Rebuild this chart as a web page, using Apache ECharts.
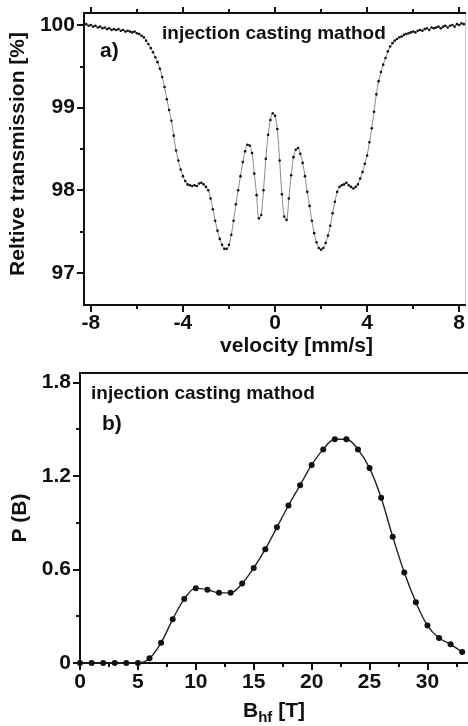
<!DOCTYPE html>
<html>
<head>
<meta charset="utf-8">
<script src="https://cdn.jsdelivr.net/npm/echarts@6/dist/echarts.min.js"></script>
<style>
  html, body { margin: 0; padding: 0; background: #fff; }
  #chart { width: 468px; height: 726px; }
</style>
</head>
<body>
<div id="chart"></div>
<script>
// a) Mossbauer spectrum
const velocity = [
  -8.3, -8.2, -8.1, -8.0, -7.9, -7.8, -7.7, -7.6, -7.5, -7.4, -7.3, -7.2, -7.1, -7.0,
  -6.9, -6.8, -6.7, -6.6, -6.5, -6.4, -6.3, -6.2, -6.1, -6.0, -5.9, -5.8, -5.7, -5.6,
  -5.5, -5.4, -5.3, -5.2, -5.1, -5.0, -4.9, -4.8, -4.7, -4.6, -4.5, -4.4, -4.3, -4.2,
  -4.1, -4.0, -3.9, -3.8, -3.7, -3.6, -3.5, -3.4, -3.3, -3.2, -3.1, -3.0, -2.9, -2.8,
  -2.7, -2.6, -2.5, -2.4, -2.3, -2.2, -2.1, -2.0, -1.9, -1.8, -1.7, -1.6, -1.5, -1.4,
  -1.3, -1.2, -1.1, -1.0, -0.9, -0.8, -0.7, -0.6, -0.5, -0.4, -0.3, -0.2, -0.1, 0.0,
  0.1, 0.2, 0.3, 0.4, 0.5, 0.6, 0.7, 0.8, 0.9, 1.0, 1.1, 1.2, 1.3, 1.4,
  1.5, 1.6, 1.7, 1.8, 1.9, 2.0, 2.1, 2.2, 2.3, 2.4, 2.5, 2.6, 2.7, 2.8,
  2.9, 3.0, 3.1, 3.2, 3.3, 3.4, 3.5, 3.6, 3.7, 3.8, 3.9, 4.0, 4.1, 4.2,
  4.3, 4.4, 4.5, 4.6, 4.7, 4.8, 4.9, 5.0, 5.1, 5.2, 5.3, 5.4, 5.5, 5.6,
  5.7, 5.8, 5.9, 6.0, 6.1, 6.2, 6.3, 6.4, 6.5, 6.6, 6.7, 6.8, 6.9, 7.0,
  7.1, 7.2, 7.3, 7.4, 7.5, 7.6, 7.7, 7.8, 7.9, 8.0, 8.1, 8.2
];
const transmission = [
  100.00, 100.01, 99.99, 100.00, 99.98, 99.99, 99.97, 99.98, 99.96, 99.97, 99.95, 99.96, 99.94, 99.95,
  99.94, 99.95, 99.93, 99.94, 99.92, 99.93, 99.92, 99.91, 99.92, 99.90, 99.89, 99.87, 99.85, 99.81,
  99.77, 99.72, 99.67, 99.61, 99.55, 99.47, 99.37, 99.25, 99.10, 98.97, 98.84, 98.66, 98.48, 98.36,
  98.25, 98.17, 98.11, 98.07, 98.06, 98.05, 98.06, 98.05, 98.08, 98.09, 98.07, 98.04, 98.00, 97.90,
  97.77, 97.63, 97.51, 97.41, 97.34, 97.29, 97.29, 97.34, 97.46, 97.63, 97.83, 98.00, 98.17, 98.34,
  98.47, 98.55, 98.54, 98.45, 98.20, 97.94, 97.66, 97.70, 98.00, 98.38, 98.67, 98.85, 98.93, 98.90,
  98.74, 98.36, 97.95, 97.68, 97.64, 97.90, 98.18, 98.40, 98.49, 98.51, 98.44, 98.33, 98.17, 97.98,
  97.81, 97.63, 97.48, 97.37, 97.30, 97.28, 97.30, 97.36, 97.45, 97.57, 97.72, 97.86, 97.98, 98.04,
  98.06, 98.07, 98.09, 98.06, 98.04, 98.02, 98.04, 98.07, 98.14, 98.22, 98.32, 98.42, 98.58, 98.75,
  98.95, 99.16, 99.32, 99.43, 99.52, 99.60, 99.68, 99.74, 99.78, 99.81, 99.83, 99.85, 99.86, 99.88,
  99.89, 99.90, 99.91, 99.92, 99.91, 99.93, 99.94, 99.93, 99.95, 99.96, 99.94, 99.97, 99.96, 99.97,
  99.98, 99.96, 99.98, 99.99, 99.97, 99.99, 100.00, 99.98, 100.01, 100.00, 100.02, 100.01
];
const velTicks = [-8, -4, 0, 4, 8];
const velMinor = [-6, -2, 2, 6];
const transTicks = [97, 98, 99, 100];
const transMinor = [97.5, 98.5, 99.5];

// b) hyperfine field distribution
const field = [
  0, 1, 2, 3, 4, 5, 6, 7, 8, 9, 10, 11, 12, 13, 14, 15, 16,
  17, 18, 19, 20, 21, 22, 23, 24, 25, 26, 27, 28, 29, 30, 31, 32, 33
];
const probability = [
  0, 0, 0, 0, 0, 0, 0.03, 0.13, 0.28, 0.41, 0.48, 0.47, 0.45, 0.45, 0.51, 0.61, 0.73,
  0.87, 1.01, 1.14, 1.27, 1.37, 1.435, 1.435, 1.37, 1.25, 1.06, 0.81, 0.58, 0.39, 0.24, 0.16, 0.12, 0.07
];
const fieldTicks = [0, 5, 10, 15, 20, 25, 30];
const fieldMinor = [2.5, 7.5, 12.5, 17.5, 22.5, 27.5, 32.5];
const probTicks = [0, 0.6, 1.2, 1.8];
const probMinor = [0.3, 0.9, 1.5];

const ink = '#111';
const font = "'Liberation Sans', Arial, Helvetica, sans-serif";
const labelStyle = { color: ink, fontSize: 21, fontWeight: 'bold', fontFamily: font };

// one axis: line + ticks (+ labels); minor ticks go on a twin axis without line
function axis(gridIndex, position, min, max, ticks, opts = {}) {
  return {
    type: 'value',
    gridIndex,
    position,
    min,
    max,
    axisLine: {
      show: opts.line !== false,
      onZero: false,
      lineStyle: { color: opts.lineColor || ink, width: opts.lineWidth || 2 }
    },
    axisTick: {
      show: ticks.length > 0,
      inside: false,
      length: opts.tickLen || 7,
      customValues: ticks,
      lineStyle: { color: ink, width: opts.tickWidth || 2 }
    },
    axisLabel: opts.labels
      ? Object.assign({ customValues: ticks, margin: opts.margin || 8 }, labelStyle)
      : { show: false },
    splitLine: { show: false },
    name: opts.name,
    nameLocation: 'middle',
    nameGap: opts.nameGap,
    nameRotate: opts.nameRotate,
    nameTextStyle: opts.nameStyle
  };
}

const nameStyle = { color: ink, fontSize: 21, fontWeight: 'bold', fontFamily: font };

const chart = echarts.init(document.getElementById('chart'), null, { renderer: 'canvas' });

chart.setOption({
  backgroundColor: '#fff',
  animation: false,
  grid: [
    { left: 81, top: 13, width: 385, height: 292 },
    { left: 80, top: 373, width: 390, height: 292 }
  ],
  xAxis: [
    axis(0, 'bottom', -8.3, 8.26, velTicks, {
      labels: true, margin: 8,
      name: 'velocity [mm/s]', nameGap: 31,
      nameStyle: Object.assign({ padding: [0, 0, 0, 44] }, nameStyle)
    }),
    axis(0, 'bottom', -8.3, 8.26, velMinor, { line: false, tickLen: 4 }),
    axis(0, 'top', -8.3, 8.26, velTicks, { tickLen: 6 }),
    axis(0, 'top', -8.3, 8.26, velMinor, { line: false, tickLen: 4 }),
    axis(1, 'bottom', 0, 33.5, fieldTicks, {
      labels: true, margin: 9,
      name: '{b|B}{s|hf}{b| [T]}', nameGap: 34,
      nameStyle: {
        rich: {
          b: { color: ink, fontSize: 21, fontWeight: 'bold', fontFamily: font, lineHeight: 28, verticalAlign: 'middle' },
          s: { color: ink, fontSize: 15, fontWeight: 'bold', fontFamily: font, lineHeight: 28, verticalAlign: 'bottom' }
        }
      }
    }),
    axis(1, 'bottom', 0, 33.5, fieldMinor, { line: false, tickLen: 4 }),
    axis(1, 'top', 0, 33.5, [], {})
  ],
  yAxis: [
    axis(0, 'left', 96.61, 100.145, transTicks, {
      labels: true, margin: 9,
      name: 'Reltive transmission [%]', nameGap: 43, nameRotate: 90,
      nameStyle: Object.assign({ padding: [0, 0, 0, 10] }, nameStyle)
    }),
    axis(0, 'left', 96.61, 100.145, transMinor, { line: false, tickLen: 4 }),
    axis(0, 'right', 96.61, 100.145, [], { lineColor: '#c8c8c8', lineWidth: 1 }),
    axis(1, 'left', 0, 1.86, probTicks, {
      labels: true, margin: 9,
      name: 'P (B)', nameGap: 43, nameRotate: 90,
      nameStyle: nameStyle
    }),
    axis(1, 'left', 0, 1.86, probMinor, { line: false, tickLen: 4 })
  ],
  series: [
    {
      type: 'line',
      xAxisIndex: 0,
      yAxisIndex: 0,
      data: velocity.map((v, i) => [v, transmission[i]]),
      smooth: 0.3,
      symbol: 'circle',
      symbolSize: 2.6,
      showAllSymbol: true,
      itemStyle: { color: '#111' },
      lineStyle: { color: '#8a8a8a', width: 1 },
      z: 3
    },
    {
      type: 'line',
      xAxisIndex: 4,
      yAxisIndex: 3,
      data: field.map((b, i) => [b, probability[i]]),
      smooth: 0.35,
      symbol: 'circle',
      symbolSize: 6,
      showAllSymbol: true,
      itemStyle: { color: '#111' },
      lineStyle: { color: '#222', width: 1.4 },
      z: 3
    }
  ],
  graphic: [
    { type: 'text', left: 162, top: 24, style: { text: 'injection casting mathod', font: 'bold 19px ' + font, fill: ink } },
    { type: 'text', left: 100, top: 41, style: { text: 'a)', font: 'bold 21px ' + font, fill: ink } },
    { type: 'text', left: 91, top: 384, style: { text: 'injection casting mathod', font: 'bold 19px ' + font, fill: ink } },
    { type: 'text', left: 102, top: 414, style: { text: 'b)', font: 'bold 21px ' + font, fill: ink } }
  ]
});

window.addEventListener('resize', () => chart.resize());
</script>
</body>
</html>
